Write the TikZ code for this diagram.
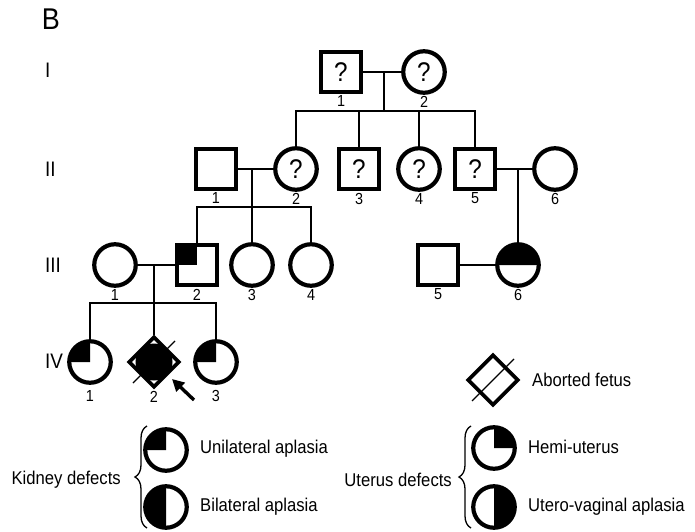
\documentclass[tikz,border=0pt]{standalone}
\usepackage{fontspec}
\setmainfont{Liberation Sans}[FakeStretch=0.9]
\usetikzlibrary{shapes.geometric,arrows.meta,decorations.pathreplacing}

\tikzset{
  male/.style={draw, rectangle, line width=4.2pt, minimum size=40.5pt, inner sep=0pt,
    font=\fontsize{27}{27}\selectfont},
  female/.style={draw, circle, line width=4.2pt, minimum size=41.5pt, inner sep=0pt,
    font=\fontsize{27}{27}\selectfont},
  fetus/.style={draw, diamond, line width=3.6pt, minimum size=51pt, inner sep=0pt},
  num/.style={font=\fontsize{16}{16}\selectfont, label distance=-2pt},
  gen/.style={anchor=west, inner sep=0pt, font=\fontsize{21}{21}\selectfont},
  legtxt/.style={inner sep=0pt, font=\fontsize{18.5}{18.5}\selectfont},
  rel/.style={line width=1.3pt},
  legbrace/.style={line width=1.3pt, decorate, decoration={brace, amplitude=12pt}},
}

\begin{document}
\begin{tikzpicture}[x=1pt,y=1pt]
    \useasboundingbox (0,0) rectangle (695,531);
    % panel and generations
    \node[font=\fontsize{30}{30}\selectfont] (panel) at (51,512) {B};
    \node[gen] (gI) at (45,461) {I};
    \node[gen] (gII) at (45,362) {II};
    \node[gen] (gIII) at (45,266) {III};
    \node[gen] (gIV) at (45,170) {IV};
    % generation I
    \node[male, label={[num]below:1}] (i1) at (341,459) {?};
    \node[female, label={[num]below:2}] (i2) at (424,459) {?};
    % generation II
    \node[male, label={[num]below:1}] (ii1) at (216,362) {};
    \node[female, label={[num]below:2}] (ii2) at (296,362) {?};
    \node[male, label={[num]below:3}] (ii3) at (359,362) {?};
    \node[female, label={[num]below:4}] (ii4) at (419,362) {?};
    \node[male, label={[num]below:5}] (ii5) at (475,362) {?};
    \node[female, label={[num]below:6}] (ii6) at (555,362) {};
    % generation III
    \node[female, label={[num]below:1}] (iii1) at (115,266) {};
    \node[male, label={[num]below:2}] (iii2) at (197,266) {};
    \node[female, label={[num]below:3}] (iii3) at (252,266) {};
    \node[female, label={[num]below:4}] (iii4) at (311,266) {};
    \node[male, label={[num]below:5}] (iii5) at (438,266) {};
    \node[female, label={[num]below:6}] (iii6) at (518,266) {};
    % generation IV
    \node[female, label={[num,label distance=2pt]below:1}] (iv1) at (90,169) {};
    \node[fetus, label={[num]below:2}] (iv2) at (154,169) {};
    \node[female, label={[num,label distance=2pt]below:3}] (iv3) at (216,169) {};

    % lines of descent
    \coordinate (mI) at (384,459);
    \coordinate (sI) at (384,420);
    \draw[rel] (i1) -- (i2);
    \draw[rel] (mI) -- (sI);
    \draw[rel] (sI) -| (ii2);
    \draw[rel] (sI) -| (ii3);
    \draw[rel] (sI) -| (ii4);
    \draw[rel] (sI) -| (ii5);
    \coordinate (mII) at (252,362);
    \coordinate (sII) at (252,324);
    \draw[rel] (ii1) -- (ii2);
    \draw[rel] (mII) -- (sII);
    \draw[rel] (sII) -| (iii2);
    \draw[rel] (sII) -- (iii3);
    \draw[rel] (sII) -| (iii4);
    \coordinate (mIIb) at (518,362);
    \draw[rel] (ii5) -- (ii6);
    \draw[rel] (mIIb) -- (iii6);
    \coordinate (mIII) at (154,266);
    \coordinate (sIII) at (154,228);
    \draw[rel] (iii1) -- (iii2);
    \draw[rel] (mIII) -- (sIII);
    \draw[rel] (sIII) -| (iv1);
    \draw[rel] (sIII) -- (iv2);
    \draw[rel] (sIII) -| (iv3);
    \draw[rel] (iii5) -- (iii6);

    % affected parts
    \fill (iii2.center) rectangle ++(-20.5,20.5);
    \fill ([xshift=21pt]iii6.center) arc[start angle=0, end angle=180, radius=21] -- cycle;
    \fill (iv1.center) -- ++(-21,0) arc[start angle=180, end angle=90, radius=21] -- cycle;
    \fill (iv3.center) -- ++(-21,0) arc[start angle=180, end angle=90, radius=21] -- cycle;
    \fill (iv2.center) circle (18.5);
    \draw[rel] ([shift={(-21,-21)}]iv2.center) -- ([shift={(21,21)}]iv2.center);
    % proband
    \coordinate (ptail) at (194,131);
    \coordinate (phead) at (172,152);
    \draw[line width=3.4pt, -{Triangle[length=12pt, width=12pt]}] (ptail) -- (phead);

    % legend
    \node[fetus] (lgfetus) at (493,151) {};
    \draw[rel] ([shift={(-21,-21)}]lgfetus.center) -- ([shift={(21,21)}]lgfetus.center);
    \node[legtxt, anchor=west] (lgfetustxt) at (532,151) {Aborted fetus};

    \node[legtxt, anchor=east] (kid) at (121,51) {Kidney defects};
    \draw[legbrace] (147,3) -- (147,105);
    \node[female] (kid1) at (166,81) {};
    \node[female] (kid2) at (166,24) {};
    \fill (kid1.center) -- ++(-21,0) arc[start angle=180, end angle=90, radius=21] -- cycle;
    \fill ([yshift=21pt]kid2.center) arc[start angle=90, end angle=270, radius=21] -- cycle;
    \node[legtxt, anchor=west] (kid1txt) at (200,82) {Unilateral aplasia};
    \node[legtxt, anchor=west] (kid2txt) at (200,24) {Bilateral aplasia};

    \node[legtxt, anchor=east] (ut) at (452,51) {Uterus defects};
    \draw[legbrace] (471,3) -- (471,105);
    \node[female] (ut1) at (494,83) {};
    \node[female] (ut2) at (494,24) {};
    \fill (ut1.center) -- ++(0,21) arc[start angle=90, end angle=0, radius=21] -- cycle;
    \fill ([yshift=21pt]ut2.center) arc[start angle=90, end angle=-90, radius=21] -- cycle;
    \node[legtxt, anchor=west] (ut1txt) at (528,84) {Hemi-uterus};
    \node[legtxt, anchor=west] (ut2txt) at (528,24) {Utero-vaginal aplasia};
\end{tikzpicture}
\end{document}
